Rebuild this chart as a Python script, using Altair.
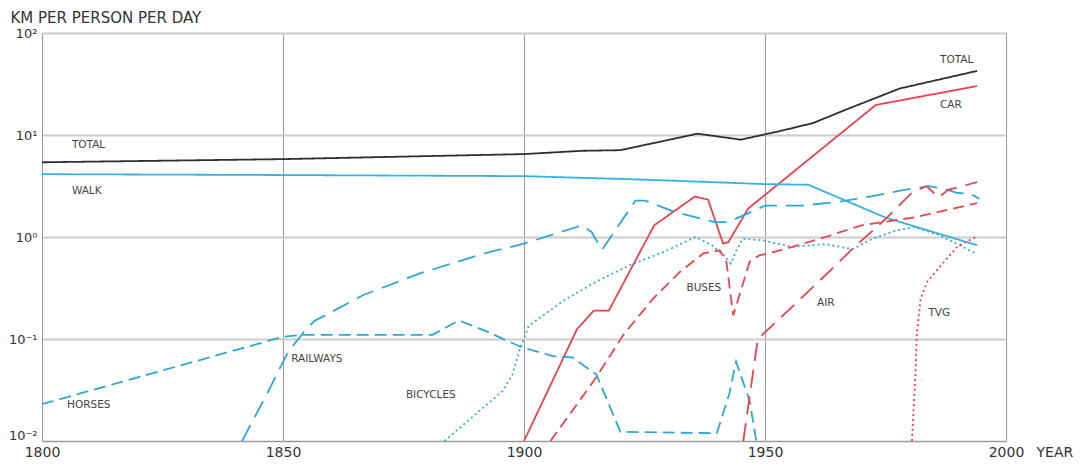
import altair as alt
import pandas as pd

# ---------------- data ----------------
total_year = [1800, 1850, 1900, 1912, 1920, 1936, 1945, 1953, 1960, 1967, 1978, 1994]
total_val = [5.4, 5.8, 6.5, 7.0, 7.1, 10.3, 9.0, 10.9, 13.1, 17.9, 28.6, 42.5]

car_year = [1900, 1911, 1914.5, 1917.6, 1927, 1935.5, 1938.2, 1941.3, 1942.4, 1946.5, 1973, 1994]
car_val = [0.01, 0.125, 0.19, 0.19, 1.3, 2.5, 2.32, 0.86, 0.89, 1.9, 19.7, 30.2]

walk_year = [1800, 1850, 1900, 1925, 1950, 1959, 1975, 1994]
walk_val = [4.13, 4.05, 3.95, 3.65, 3.3, 3.25, 1.55, 0.83]

horses_year = [1800, 1850, 1854, 1881, 1886.5, 1892, 1899.5, 1906, 1910, 1915, 1920,
               1940, 1942.6, 1944, 1946.8, 1948.2]
horses_val = [0.023, 0.105, 0.11, 0.11, 0.152, 0.12, 0.083, 0.068, 0.066, 0.045, 0.0123,
              0.0119, 0.029, 0.06, 0.025, 0.01]

rail_year = [1841.5, 1847, 1851, 1854.5, 1856.5, 1866.7, 1878.4, 1892.2, 1899.6, 1912,
             1914, 1916.2, 1923.1, 1925.2, 1931.4, 1939.6, 1942.4, 1950, 1957.6, 1965,
             1972, 1978, 1984, 1987.3, 1990, 1992.8, 1994.5]
rail_val = [0.01, 0.031, 0.074, 0.12, 0.15, 0.27, 0.44, 0.7, 0.85, 1.3,
            1.12, 0.75, 2.27, 2.27, 1.75, 1.4, 1.4, 2.03, 2.03, 2.2,
            2.5, 2.85, 3.15, 2.95, 2.7, 2.64, 2.36]

bike_year = [1883.5, 1895.6, 1897.6, 1899, 1901, 1908, 1915, 1922, 1929, 1935.6, 1939,
             1941.8, 1942.9, 1943.9, 1945.3, 1949.4, 1955.7, 1962.5, 1968.2, 1972.3,
             1977, 1981, 1986, 1994]
bike_val = [0.01, 0.031, 0.045, 0.076, 0.135, 0.234, 0.366, 0.53, 0.715, 1.0, 0.83,
            0.64, 0.55, 0.71, 0.96, 0.93, 0.8, 0.85, 0.76, 0.96,
            1.15, 1.25, 1.05, 0.68]

bus_year = [1905.5, 1914.5, 1920.7, 1926.9, 1932.4, 1937.2, 1940.6, 1942, 1943.4, 1946.8,
            1948.8, 1951.7, 1955.7, 1962.5, 1970, 1981, 1994]
bus_val = [0.01, 0.039, 0.111, 0.252, 0.457, 0.69, 0.74, 0.57, 0.17, 0.57,
           0.66, 0.71, 0.8, 1.0, 1.3, 1.56, 2.15]

air_year = [1945.5, 1948.5, 1955.8, 1965.4, 1968.2, 1975, 1980.5, 1983.5, 1986, 1988, 1994]
air_val = [0.01, 0.1, 0.21, 0.57, 0.77, 1.5, 2.73, 3.15, 2.45, 2.9, 3.45]

tgv_year = [1980.5, 1981.2, 1981.5, 1982.3, 1983.7, 1987.8, 1989.9, 1993.7]
tgv_val = [0.01, 0.045, 0.111, 0.25, 0.366, 0.62, 0.8, 1.0]

series_names = ["TOTAL", "CAR", "WALK", "HORSES", "RAILWAYS", "BICYCLES", "BUSES", "AIR", "TVG"]
series_colors = ["#2e2e2e", "#e8434f", "#35b1e3", "#2fa6d6", "#2fa6d6", "#38acd8",
                 "#e8434f", "#e8434f", "#e8434f"]
series_dashes = [[1, 0], [1, 0], [1, 0], [12, 6], [18, 9], [2, 3], [11, 6], [18, 9], [2, 3]]

label_text = ["TOTAL", "WALK", "HORSES", "RAILWAYS", "BICYCLES", "BUSES", "AIR", "TVG",
              "TOTAL", "CAR"]
label_year = [1806.2, 1806.2, 1805.2, 1851.7, 1875.5, 1933.7, 1960.8, 1983.9, 1986.3, 1986.3]
label_val = [7.95, 2.84, 0.0227, 0.0635, 0.0284, 0.316, 0.227, 0.18, 54.3, 19.9]

x_ticks = [1800, 1850, 1900, 1950, 2000]
y_ticks = [0.01, 0.1, 1, 10, 100]

# ---------------- build table ----------------
series_data = {
    "TOTAL": (total_year, total_val),
    "CAR": (car_year, car_val),
    "WALK": (walk_year, walk_val),
    "HORSES": (horses_year, horses_val),
    "RAILWAYS": (rail_year, rail_val),
    "BICYCLES": (bike_year, bike_val),
    "BUSES": (bus_year, bus_val),
    "AIR": (air_year, air_val),
    "TVG": (tgv_year, tgv_val),
}
rows = []
for name, (ys, vs) in series_data.items():
    for i, (yr, v) in enumerate(zip(ys, vs)):
        rows.append({"series": name, "year": yr, "value": v, "idx": i})
df = pd.DataFrame(rows)

labels_df = pd.DataFrame({"text": label_text, "year": label_year, "value": label_val})

FONT = "DejaVu Sans"

x_scale = alt.Scale(domain=[1800, 2000], nice=False, zero=False)
y_scale = alt.Scale(type="log", domain=[0.01, 100], nice=False)

y_label_expr = ("datum.value >= 99 ? '10²' : datum.value >= 9 ? '10¹' : "
                "datum.value >= 0.9 ? '10⁰' : datum.value >= 0.09 ? '10⁻¹' : '10⁻²'")

lines = alt.Chart(df).mark_line(strokeWidth=1.8, clip=True).encode(
    x=alt.X("year:Q", scale=x_scale,
            axis=alt.Axis(values=x_ticks, format="d", title="YEAR",
                          labelFont=FONT, labelFontSize=14, labelColor="#333333",
                          labelPadding=4, ticks=False, domainColor="#9a9a9a",
                          gridColor="#9a9a9a", gridWidth=1,
                          titleFont=FONT, titleFontSize=14, titleFontWeight="normal",
                          titleColor="#333333", titleX=994, titleY=4,
                          titleAlign="left", titleBaseline="top",
                          labelFlush=False)),
    y=alt.Y("value:Q", scale=y_scale,
            axis=alt.Axis(values=y_ticks, labelExpr=y_label_expr,
                          title="KM PER PERSON PER DAY",
                          labelFont=FONT, labelFontSize=13, labelColor="#333333",
                          labelPadding=5, ticks=False, domainColor="#9a9a9a",
                          labelOffset={"condition": {"test": "datum.value < 0.05", "value": -6},
                                       "value": 0},
                          gridColor="#cccccc", gridWidth=2,
                          titleFont=FONT, titleFontSize=15, titleFontWeight="normal",
                          titleColor="#333333", titleAngle=0, titleX=-32, titleY=-16,
                          titleAlign="left", titleBaseline="middle",
                          labelFlush=False)),
    color=alt.Color("series:N",
                    scale=alt.Scale(domain=series_names, range=series_colors),
                    legend=None),
    strokeDash=alt.StrokeDash("series:N",
                              scale=alt.Scale(domain=series_names, range=series_dashes),
                              legend=None),
    detail="series:N",
    order="idx:Q",
)

texts = alt.Chart(labels_df).mark_text(
    font=FONT, fontSize=10.5, color="#444444", align="left", baseline="middle"
).encode(
    x=alt.X("year:Q", scale=x_scale),
    y=alt.Y("value:Q", scale=y_scale),
    text="text:N",
)

chart = alt.layer(lines, texts).properties(
    width=964,
    height=408,
    autosize=alt.AutoSizeParams(type="none"),
    padding={"left": 34, "top": 25, "right": 73, "bottom": 17},
    background="white",
).configure_view(
    stroke="#aaaaaa", strokeWidth=1
).configure(font=FONT)

chart.save("out.html", embed_options={"renderer": "svg", "actions": False})
